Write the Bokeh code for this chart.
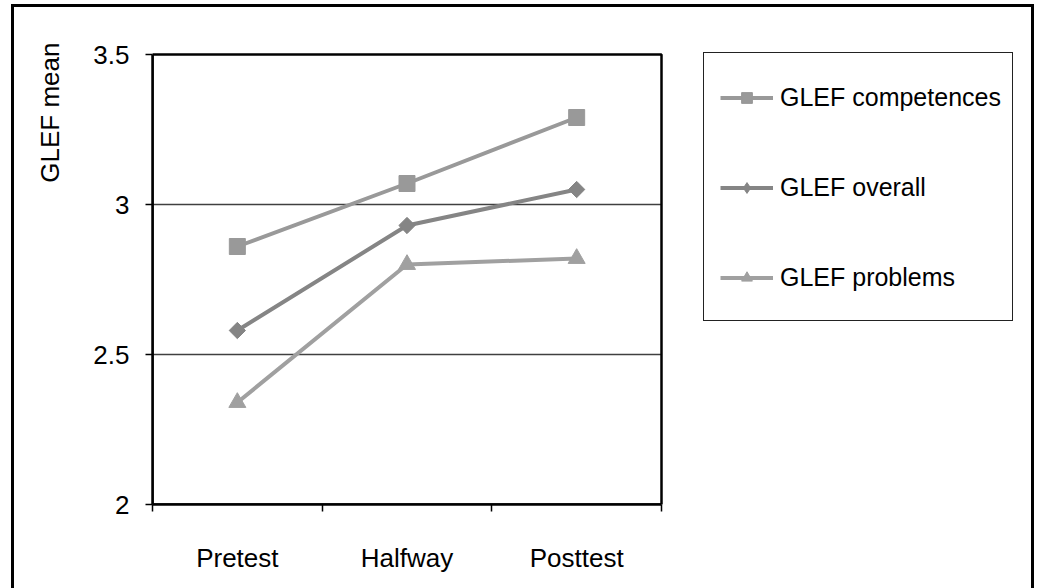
import numpy as np
from bokeh.plotting import figure
from bokeh.models import (Range1d, FixedTicker, LinearAxis, Legend, LegendItem,
                          Title, BoxAnnotation, InlineStyleSheet)
from bokeh.embed import file_html
from bokeh.resources import INLINE

# Mean GLEF scores at the three measurement moments
categories = ["Pretest", "Halfway", "Posttest"]
competences = [2.86, 3.07, 3.29]
overall = [2.58, 2.93, 3.05]
problems = [2.34, 2.80, 2.82]
series_names = ["GLEF competences", "GLEF overall", "GLEF problems"]
y_ticks = [2, 2.5, 3, 3.5]
y_tick_labels = ["2", "2.5", "3", "3.5"]

FONT = "Liberation Sans"
FS = "26px"

# categories sit in the middle of unit-wide slots; ticks mark slot boundaries
n = len(categories)
xs = [i + 0.5 for i in range(n)]
boundaries = list(range(n + 1))

# The frame runs on to the right edge so the legend can live beside the plot
# area; the plot area itself is the box [0, n] x [2, 3.5].
PLOT_W, PLOT_H = 509, 450
FRAME_RIGHT_EXTRA = 379        # px of frame right of the plot area
FRAME_TOP_EXTRA = 4            # px of frame above the plot area
x_end = n + FRAME_RIGHT_EXTRA * n / PLOT_W
y_span = y_ticks[-1] - y_ticks[0]
y_end = y_ticks[-1] + FRAME_TOP_EXTRA * y_span / PLOT_H

p = figure(width=1040, height=588, output_backend="svg", toolbar_location=None,
           x_range=Range1d(0, x_end), y_range=Range1d(y_ticks[0], y_end),
           min_border_left=152, min_border_right=0, min_border_top=50,
           min_border_bottom=84, x_axis_type=None, y_axis_type=None)
p.background_fill_color = "white"
p.border_fill_color = "white"
p.outline_line_color = None

# x axis: category names centred, small ticks at the slot edges
xaxis = LinearAxis(ticker=FixedTicker(ticks=xs, minor_ticks=boundaries),
                   major_label_overrides={x: c for x, c in zip(xs, categories)},
                   bounds=(0, n))
xaxis.axis_line_color = "black"
xaxis.axis_line_width = 2.5
xaxis.major_tick_out = 0
xaxis.major_tick_in = 0
xaxis.minor_tick_out = 7
xaxis.minor_tick_in = 0
xaxis.minor_tick_line_color = "black"
xaxis.minor_tick_line_width = 1.5
xaxis.major_label_standoff = 31
xaxis.major_label_text_font = FONT
xaxis.major_label_text_font_size = FS
xaxis.major_label_text_color = "black"
p.add_layout(xaxis, "below")

yaxis = LinearAxis(ticker=FixedTicker(ticks=y_ticks, minor_ticks=[]),
                   major_label_overrides={t: s for t, s in zip(y_ticks, y_tick_labels)},
                   bounds=(y_ticks[0], y_ticks[-1]))
yaxis.axis_line_color = "black"
yaxis.axis_line_width = 2.5
yaxis.major_tick_out = 7
yaxis.major_tick_in = 0
yaxis.major_tick_line_color = "black"
yaxis.major_tick_line_width = 1.5
yaxis.major_label_standoff = 16
yaxis.major_label_text_font = FONT
yaxis.major_label_text_font_size = FS
yaxis.major_label_text_color = "black"
p.add_layout(yaxis, "left")

# vertical axis title, pushed to the top of the axis
p.add_layout(Title(text="GLEF mean", align="right", offset=-8, standoff=52,
                   vertical_align="bottom",
                   text_font=FONT, text_font_size=FS, text_font_style="normal",
                   text_color="black"), "left")

# horizontal gridlines across the plot area only
inner = y_ticks[1:-1]
p.segment(x0=[0] * len(inner), x1=[n] * len(inner), y0=inner, y1=inner,
          line_color="#404040", line_width=1.5)

# plot area border
p.add_layout(BoxAnnotation(left=0, right=n, bottom=y_ticks[0], top=y_ticks[-1],
                           fill_alpha=0, line_color="black", line_alpha=1,
                           line_width=2.5))

styles = [
    (competences, "#999999", "square", 16, 0.0),
    (overall, "#858585", "square", 11.5, np.pi / 4),
    (problems, "#a0a0a0", "triangle", 17, 0.0),
]

items = []
for name, (vals, color, marker, size, angle) in zip(series_names, styles):
    ln = p.line(xs, vals, line_color=color, line_width=4)
    sc = p.scatter(xs, vals, marker=marker, size=size, angle=angle,
                   fill_color=color, line_color=color)
    key = sc
    if angle:
        # the legend key shows this series as an upright diamond
        key = p.scatter(xs, vals, marker="diamond", size=size,
                        fill_color=color, line_color=color, visible=False)
    items.append(LegendItem(label=name, renderers=[ln, key]))

legend = Legend(items=items, location=(568, 212), orientation="vertical",
                padding=0, margin=0, spacing=60, glyph_width=53, glyph_height=27,
                label_height=30, label_standoff=7,
                label_text_font=FONT, label_text_font_size="25px", label_text_color="black",
                border_line_alpha=0, background_fill_alpha=0)
p.add_layout(legend)

# outer chart frame and legend frame
p.stylesheets = [InlineStyleSheet(css="""
:host { position: relative; }
:host::after {
  content: ""; position: absolute; left: 11px; top: 4px; width: 1023px; height: 584px;
  border: 3px solid black; border-bottom: none; box-sizing: border-box;
  pointer-events: none; z-index: 20;
}
:host::before {
  content: ""; position: absolute; left: 703px; top: 52px; width: 310px; height: 269px;
  border: 1px solid #222222; box-sizing: border-box;
  pointer-events: none; z-index: 20;
}
""")]

open("out.html", "w").write(file_html(p, INLINE))
